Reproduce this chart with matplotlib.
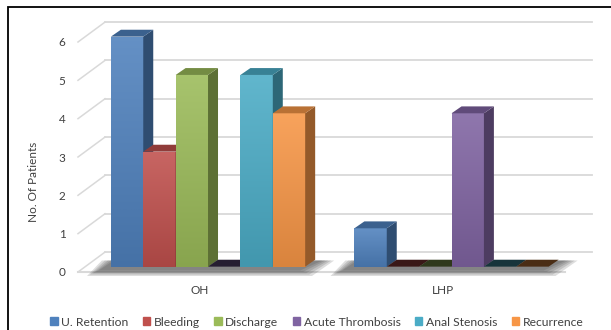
import numpy as np
import matplotlib.pyplot as plt
from matplotlib.patches import Polygon, Rectangle
from matplotlib.colors import to_rgb, LinearSegmentedColormap

groups = ['OH', 'LHP']
series = ['U. Retention', 'Bleeding', 'Discharge', 'Acute Thrombosis', 'Anal Stenosis', 'Recurrence']
oh_counts = [6, 3, 5, 0, 5, 4]
lhp_counts = [1, 0, 0, 4, 0, 0]
colors = ['#4F81BD', '#C0504D', '#9BBB59', '#8064A2', '#4BACC6', '#F79646']

plt.rcParams['font.family'] = ['Lato', 'DejaVu Sans']


def shade(c, f):
    r, g, b = to_rgb(c)
    if f >= 1:
        return (r + (1 - r) * (f - 1), g + (1 - g) * (f - 1), b + (1 - b) * (f - 1))
    return (r * f, g * f, b * f)


fig = plt.figure(figsize=(6.11, 3.30), dpi=100)
ax = fig.add_axes([78 / 611, 58 / 330, 487 / 611, 230 / 330])

# fake 3d: offsets for bar depth and the back wall
bar_w = 0.133
shift = 0.034
lift = 0.14
ddx, ddy = 0.041, 0.18
wall_dx, wall_dy = 0.111, 0.52
grid_c = '#d9d9d9'

# walls and floor
for v in range(7):
    ax.plot([-0.5 + wall_dx, 1.5 + wall_dx], [v + wall_dy] * 2, color=grid_c, lw=1.3, clip_on=False, zorder=1)
    ax.plot([-0.5, -0.5 + wall_dx], [v, v + wall_dy], color=grid_c, lw=1.1, clip_on=False, zorder=1)
ax.plot([-0.5, 1.5], [0, 0], color=grid_c, lw=1.5, clip_on=False, zorder=1)

data = [oh_counts, lhp_counts]
for gi, vals in enumerate(data):
    g0 = gi + shift - 3 * bar_w
    g1 = gi + shift + 3 * bar_w
    # soft shadow under each group
    for k in range(5):
        e = 0.012 * k
        sh = Polygon([(g0 - 0.05 - e, lift - 0.1 - e * 3), (g1 - 0.02 + e, lift - 0.1 - e * 3),
                      (g1 + ddx + 0.03 + e, lift + ddy - 0.02), (g0 + ddx - 0.03 - e, lift + ddy - 0.02)],
                     closed=True, facecolor='#303030', edgecolor='none', alpha=0.16, clip_on=False, zorder=4)
        ax.add_patch(sh)
    for si, v in enumerate(vals):
        c = colors[si]
        x0 = g0 + si * bar_w
        x1 = x0 + bar_w
        z = 10 + si * 3
        yb = lift
        if v > 0:
            cmap = LinearSegmentedColormap.from_list('g', [shade(c, 0.88), shade(c, 1.12)])
            grad = np.linspace(0, 1, 64).reshape(-1, 1)
            ax.imshow(grad, extent=[x0, x1, yb, yb + v], origin='lower', aspect='auto',
                      cmap=cmap, clip_on=False, zorder=z, interpolation='bilinear')
            side = Polygon([(x1, yb), (x1, yb + v), (x1 + ddx, yb + v + ddy), (x1 + ddx, yb + ddy)],
                           closed=True, facecolor=shade(c, 0.6), edgecolor='none', clip_on=False, zorder=z + 1)
            ax.add_patch(side)
            top_c = shade(c, 0.75)
        else:
            top_c = shade(c, 0.3)
        top = Polygon([(x0, yb + v), (x1, yb + v), (x1 + ddx, yb + v + ddy), (x0 + ddx, yb + v + ddy)],
                      closed=True, facecolor=top_c, edgecolor='none', clip_on=False, zorder=z + 2)
        ax.add_patch(top)

ax.set_xlim(-0.5, 1.5)
ax.set_ylim(0, 6)
ax.set_xticks(range(len(groups)))
ax.set_xticklabels(groups)
ax.set_yticks(range(7))
ax.tick_params(axis='y', length=0, pad=9, labelsize=8.5, labelcolor='#404040')
ax.tick_params(axis='x', length=0, pad=9.5, labelsize=8.5, labelcolor='#404040')
for s in ax.spines.values():
    s.set_visible(False)
ax.set_ylabel('No. Of Patients', fontsize=8.5, color='#404040')
ax.yaxis.set_label_coords(-0.08, 0.39)

handles = [Rectangle((0, 0), 1, 1, color=c) for c in colors]
fig.legend(handles, series, loc='center', bbox_to_anchor=(317 / 611, 8 / 330), ncol=6, frameon=False,
           fontsize=8.7, handlelength=0.6, handleheight=0.6, handletextpad=0.3, columnspacing=1.2,
           labelcolor='#404040')

frame = Rectangle((8 / 611, -0.1), 1.2, 1.1 - 7 / 330, transform=fig.transFigure,
                  fill=False, edgecolor='black', lw=1.3)
fig.patches.append(frame)

fig.savefig('out.png', dpi=100)
